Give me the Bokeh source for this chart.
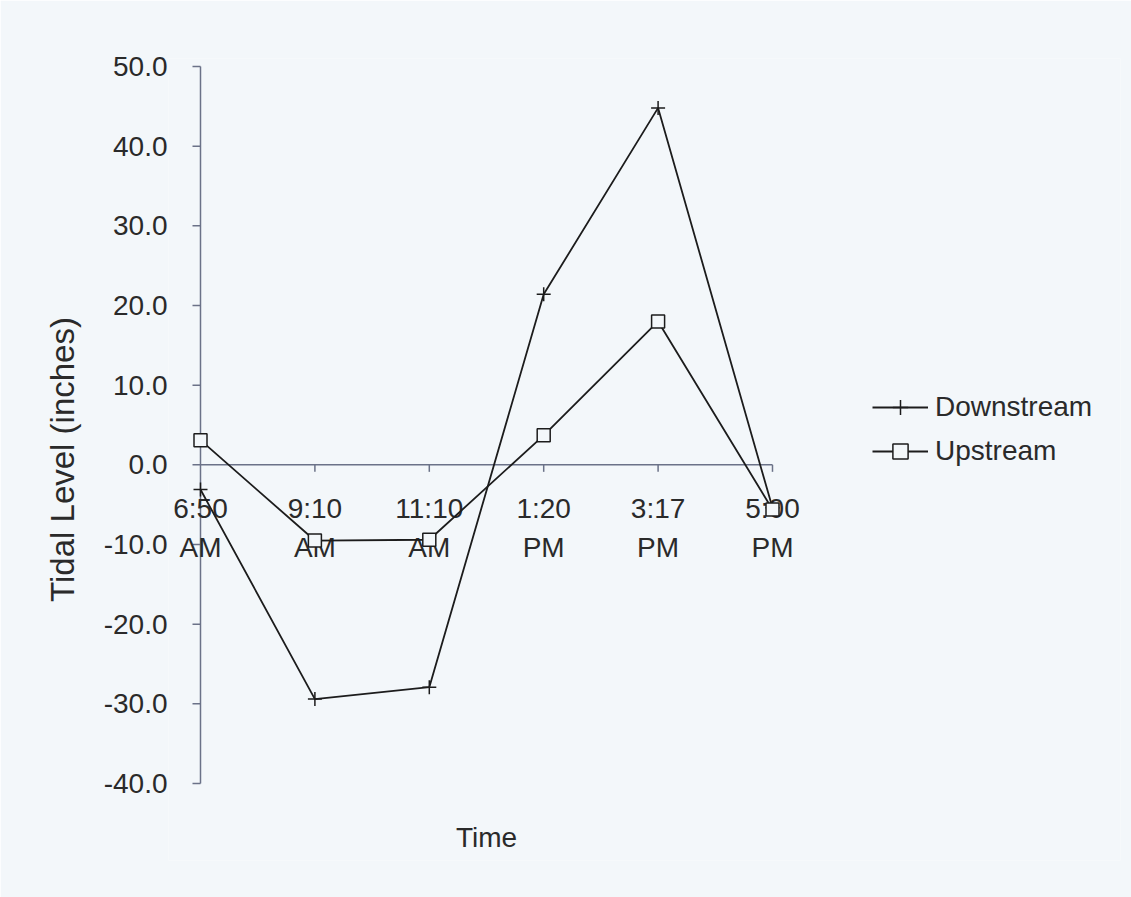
import math
from bokeh.plotting import figure
from bokeh.models import Range1d, Legend, LegendItem, Label, FixedTicker, PrintfTickFormatter
from bokeh.core.properties import value
from bokeh.embed import file_html
from bokeh.resources import INLINE

# ---- data ----
time_labels = ["6:50", "9:10", "11:10", "1:20", "3:17", "5:00"]
ampm_labels = ["AM", "AM", "AM", "PM", "PM", "PM"]
downstream = [-3.1, -29.4, -27.9, 21.4, 44.8, -5.4]
upstream = [3.1, -9.5, -9.4, 3.7, 18.0, -5.6]
y_ticks = [-40, -30, -20, -10, 0, 10, 20, 30, 40, 50]

FONT = "Liberation Sans"
BG = "#f3f7fa"
LINE = "#1c1c1c"
AXIS = "#6b7288"
TXT = "#2a2a2a"

x = list(range(len(time_labels)))
n = len(x)

p = figure(frame_width=952, frame_height=802,
           min_border_left=168, min_border_right=11,
           min_border_top=58, min_border_bottom=37,
           x_range=Range1d(-0.2797, 8.042), y_range=Range1d(-49.66, 51.0),
           output_backend="svg", toolbar_location=None,
           background_fill_color=BG, border_fill_color=BG)
p.outline_line_alpha = 0
p.grid.visible = False
p.xaxis.visible = False

yax = p.yaxis[0]
yax.ticker = FixedTicker(ticks=y_ticks)
yax.formatter = PrintfTickFormatter(format="%.1f")
yax.axis_line_alpha = 0
yax.major_tick_out = 0
yax.major_tick_in = 0
yax.minor_tick_out = 0
yax.minor_tick_in = 0
yax.major_label_standoff = 1
yax.major_label_text_font = FONT
yax.major_label_text_font_size = "28px"
yax.major_label_text_color = TXT
yax.axis_label = "Tidal Level (inches)"
yax.axis_label_text_font = FONT
yax.axis_label_text_font_size = "33px"
yax.axis_label_text_font_style = "normal"
yax.axis_label_text_color = TXT
yax.axis_label_standoff = 20

# axis lines and ticks drawn at the category origin / zero level
p.segment(x0=[x[0]], y0=[min(y_ticks)], x1=[x[0]], y1=[max(y_ticks)], line_color=AXIS, line_width=1.5)
p.ray(x=[x[0]] * len(y_ticks), y=y_ticks, length=8, length_units="screen", angle=math.pi,
      line_color=AXIS, line_width=1.5)
p.segment(x0=[x[0]], y0=[0], x1=[x[-1]], y1=[0], line_color=AXIS, line_width=1.5)
p.ray(x=x[1:], y=[0] * (n - 1), length=7, length_units="screen", angle=-math.pi / 2,
      line_color=AXIS, line_width=1.5)

# category labels under the zero line
p.text(x=x, y=[0] * n, text=time_labels, y_offset=44, text_align="center", text_baseline="middle",
       text_font=value(FONT), text_font_size="28px", text_color=TXT)
p.text(x=x, y=[0] * n, text=ampm_labels, y_offset=83, text_align="center", text_baseline="middle",
       text_font=value(FONT), text_font_size="28px", text_color=TXT)

# series
ld = p.line(x, downstream, line_color=LINE, line_width=1.8)
sd = p.scatter(x, downstream, marker="cross", size=14, line_color=LINE, line_width=1.5)
lu = p.line(x, upstream, line_color=LINE, line_width=1.8)
su = p.scatter(x, upstream, marker="square", size=13, fill_color=BG, line_color=LINE, line_width=1.5)

legend = Legend(items=[LegendItem(label="Downstream", renderers=[ld, sd]),
                       LegendItem(label="Upstream", renderers=[lu, su])],
                location=(704, 390), glyph_width=56, glyph_height=38, label_height=38,
                label_standoff=7, spacing=6, padding=0, margin=0,
                border_line_alpha=0, background_fill_alpha=0,
                label_text_font=FONT, label_text_font_size="28px", label_text_color=TXT)
p.add_layout(legend)

p.add_layout(Label(x=(x[0] + x[-1]) / 2, y=23, x_units="data", y_units="screen", text="Time",
                   text_align="center", text_baseline="middle", text_font=FONT,
                   text_font_size="28px", text_color=TXT))

open("out.html", "w").write(file_html(p, INLINE))
